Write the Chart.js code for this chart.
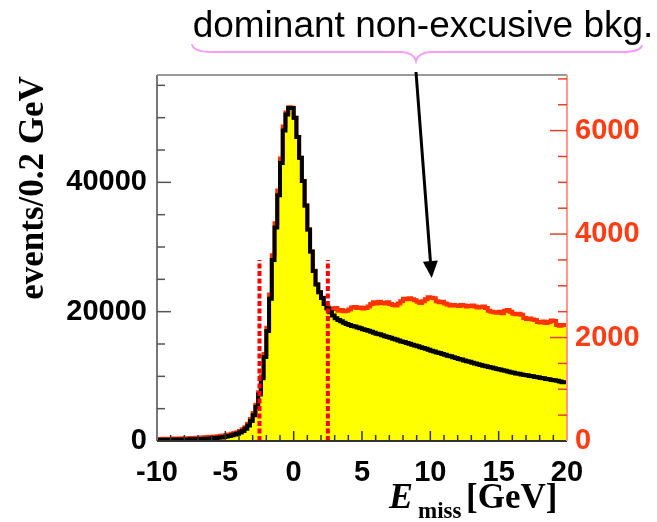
<!DOCTYPE html>
<html><head><meta charset="utf-8">
<script src="https://cdn.jsdelivr.net/npm/chart.js@4.4.1/dist/chart.umd.min.js"></script>
<style>html,body{margin:0;padding:0;background:#fff;}#wrap{width:657px;height:522px;position:relative;}</style>
</head><body><div id="wrap"><canvas id="c" width="657" height="522"></canvas></div>
<script>
// ---- data ----
const xMin = -10, xMax = 20, binWidth = 0.2;
const xTickLabels = [-10, -5, 0, 5, 10, 15, 20];
const leftTickLabels = [0, 20000, 40000];
const rightTickLabels = [0, 2000, 4000, 6000];
const leftMax = 56600, rightMax = 7075;
// black histogram, events per 0.2 GeV bin (left axis), bins from -10 to 20
const signalCounts = [
  180,170,190,200,190,210,200,220,210,230,
  230,250,240,260,270,280,300,310,330,350,
  380,410,450,500,560,620,700,790,880,990,
  1120,1300,1550,1900,2400,3100,4000,5300,7200,9700,
  13000,17000,22000,28000,33000,38000,43000,48000,50500,51500,
  51500,50000,47000,43800,40200,36400,32700,29300,26300,24200,
  23000,22100,21200,20500,19900,19400,19000,18700,18500,18300,
  18100,17950,17800,17700,17550,17450,17300,17150,17050,16900,
  16750,16600,16500,16350,16200,16100,15950,15800,15700,15550,
  15400,15300,15150,15050,14900,14750,14650,14500,14400,14250,
  14100,13950,13850,13700,13600,13450,13350,13200,13100,12950,
  12850,12700,12600,12450,12350,12250,12100,12000,11850,11750,
  11650,11550,11450,11350,11250,11150,11050,10950,10850,10750,
  10650,10550,10450,10400,10300,10200,10150,10050,10000,9900,
  9850,9750,9700,9600,9550,9450,9400,9300,9200,9100
];
// red/yellow histogram (right axis)
const totalCounts = [
  35,38,40,42,40,45,44,48,46,50,
  52,55,54,58,60,62,65,68,72,76,
  80,84,88,94,100,108,118,128,140,155,
  170,195,225,268,335,425,540,700,940,1250,
  1680,2190,2830,3590,4210,4840,5460,6080,6350,6450,
  6440,6250,5875,5475,5025,4550,4090,3665,3290,3030,
  2875,2770,2650,2580,2560,2550,2570,2520,2530,2510,
  2520,2540,2580,2590,2570,2580,2560,2570,2600,2650,
  2680,2660,2690,2670,2660,2680,2650,2630,2620,2660,
  2700,2750,2740,2760,2740,2720,2690,2670,2700,2740,
  2780,2770,2760,2700,2680,2690,2660,2640,2620,2630,
  2620,2610,2630,2620,2600,2610,2620,2600,2580,2590,
  2600,2570,2520,2500,2490,2480,2500,2470,2520,2530,
  2500,2460,2450,2460,2440,2380,2360,2370,2350,2340,
  2300,2290,2310,2280,2300,2330,2320,2240,2230,2240
];
const cutPositions = [-2.5, 2.5];
const cutHeight = 28000;
const annotationText = 'dominant non-excusive bkg.';
const yTitleText = 'events/0.2 GeV';
const xTitleParts = ['E', 'miss', '[GeV]'];
const arrowTarget = {x: 10.1, y: 3150}; // in x / right-axis units

function histPoints(vals) {
  const pts = vals.map((v, i) => ({x: xMin + i * binWidth, y: v}));
  pts.push({x: xMax, y: vals[vals.length - 1]});
  return pts;
}

const SANS = '"Liberation Sans", Arial, sans-serif';
const SERIF = '"Liberation Serif", "Times New Roman", serif';

const decor = {
  id: 'decor',
  afterDatasetsDraw(chart) {
    const {ctx, chartArea: a, scales: {x, y, y2}} = chart;
    const line = (x1, y1, x2, y2_) => { ctx.beginPath(); ctx.moveTo(x1, y1); ctx.lineTo(x2, y2_); ctx.stroke(); };
    ctx.save();
    ctx.lineWidth = 2;
    ctx.strokeStyle = '#9a9a9a'; line(a.left, a.top, a.right, a.top);
    ctx.strokeStyle = '#777'; line(a.left, a.top, a.left, a.bottom);
    ctx.strokeStyle = '#333'; line(a.left, a.bottom, a.right, a.bottom);
    ctx.strokeStyle = '#ff9a88'; line(a.right, a.top, a.right, a.bottom);
    ctx.lineWidth = 1.5;
    ctx.strokeStyle = '#333';
    for (let v = xMin + 1; v < xMax; v++) {
      const px = x.getPixelForValue(v);
      line(px, a.bottom, px, a.bottom - (v % 5 === 0 ? 10 : 6));
    }
    ctx.strokeStyle = '#555';
    for (let v = 5000; v < y.max; v += 5000) {
      const py = y.getPixelForValue(v);
      line(a.left, py, a.left + (v % 20000 === 0 ? 14 : 8), py);
    }
    ctx.strokeStyle = '#e8402a';
    for (let v = 500; v < y2.max; v += 500) {
      const py = y2.getPixelForValue(v);
      line(a.right, py, a.right - (v % 2000 === 0 ? 17 : 9), py);
    }
    ctx.restore();
  },
  afterDraw(chart) {
    const {ctx, scales: {x, y2}} = chart;
    ctx.save();
    // y title
    ctx.fillStyle = '#000';
    ctx.font = 'bold 35px ' + SERIF;
    ctx.textAlign = 'center'; ctx.textBaseline = 'alphabetic';
    ctx.translate(43, 188); ctx.rotate(-Math.PI / 2);
    ctx.fillText(yTitleText, 0, 0);
    ctx.setTransform(1, 0, 0, 1, 0, 0);
    // x title
    ctx.textAlign = 'left';
    ctx.font = 'italic bold 36px ' + SERIF;
    ctx.fillText(xTitleParts[0], 389, 508);
    ctx.font = 'bold 23px ' + SERIF;
    ctx.fillText(xTitleParts[1], 418, 518);
    ctx.font = 'bold 35px ' + SERIF;
    ctx.fillText(xTitleParts[2], 466, 508);
    // annotation
    ctx.font = '37px ' + SANS;
    ctx.textAlign = 'center';
    ctx.fillText(annotationText, 423, 37);
    // brace
    ctx.strokeStyle = '#f79cf7'; ctx.lineWidth = 2;
    ctx.beginPath();
    ctx.moveTo(192, 44);
    ctx.quadraticCurveTo(193, 52, 212, 52);
    ctx.lineTo(402, 52);
    ctx.quadraticCurveTo(414, 53, 416, 61);
    ctx.quadraticCurveTo(418, 53, 430, 52);
    ctx.lineTo(622, 52);
    ctx.quadraticCurveTo(641, 52, 642, 45);
    ctx.stroke();
    // arrow
    const tx = x.getPixelForValue(arrowTarget.x);
    const ty = y2.getPixelForValue(arrowTarget.y);
    const sx = 416, sy = 72;
    const ang = Math.atan2(ty - sy, tx - sx);
    ctx.strokeStyle = '#000'; ctx.fillStyle = '#000'; ctx.lineWidth = 3;
    ctx.beginPath(); ctx.moveTo(sx, sy);
    ctx.lineTo(tx - 14 * Math.cos(ang), ty - 14 * Math.sin(ang)); ctx.stroke();
    ctx.beginPath();
    ctx.moveTo(tx, ty);
    ctx.lineTo(tx - 17 * Math.cos(ang) + 7.5 * Math.sin(ang), ty - 17 * Math.sin(ang) - 7.5 * Math.cos(ang));
    ctx.lineTo(tx - 17 * Math.cos(ang) - 7.5 * Math.sin(ang), ty - 17 * Math.sin(ang) + 7.5 * Math.cos(ang));
    ctx.closePath(); ctx.fill();
    ctx.restore();
  }
};

const tickFont = {family: SANS, size: 29, weight: 'bold'};
const noGrid = {display: false, drawTicks: false, tickLength: 0};
const datasets = [
  ...cutPositions.map(c => ({
    data: [{x: c, y: 0}, {x: c, y: cutHeight}], yAxisID: 'y',
    borderColor: '#ff0000', borderWidth: 4, borderDash: [5, 2.5],
    pointRadius: 0, fill: false, order: 0
  })),
  {
    data: histPoints(signalCounts), yAxisID: 'y', stepped: 'after',
    borderColor: '#000', borderWidth: 4, pointRadius: 0, fill: false, order: 1
  },
  {
    data: histPoints(totalCounts), yAxisID: 'y2', stepped: 'after',
    borderColor: '#ff3300', borderWidth: 4, backgroundColor: '#ffff00',
    pointRadius: 0, fill: 'origin', order: 2
  }
];

new Chart(document.getElementById('c'), {
  type: 'line',
  data: {datasets},
  options: {
    responsive: false, animation: false, devicePixelRatio: 1,
    layout: {padding: {top: 75, left: 0, right: 0, bottom: 0}},
    plugins: {legend: {display: false}, tooltip: {enabled: false}},
    scales: {
      x: {
        type: 'linear', min: xMin, max: xMax, position: 'bottom',
        grid: noGrid, border: {display: false},
        ticks: {font: tickFont, color: '#000', padding: 15, maxRotation: 0, autoSkip: false, callback: v => String(v)},
        afterBuildTicks: s => { s.ticks = xTickLabels.map(v => ({value: v})); },
        afterFit: s => { s.height = 81; }
      },
      y: {
        position: 'left', min: 0, max: leftMax,
        grid: noGrid, border: {display: false},
        ticks: {font: tickFont, color: '#000', padding: 10, callback: v => String(v)},
        afterBuildTicks: s => { s.ticks = leftTickLabels.map(v => ({value: v})); },
        afterFit: s => { s.width = 157; }
      },
      y2: {
        position: 'right', min: 0, max: rightMax,
        grid: noGrid, border: {display: false},
        ticks: {font: tickFont, color: '#ff3d14', padding: 8, callback: v => String(v)},
        afterBuildTicks: s => { s.ticks = rightTickLabels.map(v => ({value: v})); },
        afterFit: s => { s.width = 90; }
      }
    }
  },
  plugins: [decor]
});
</script></body></html>
